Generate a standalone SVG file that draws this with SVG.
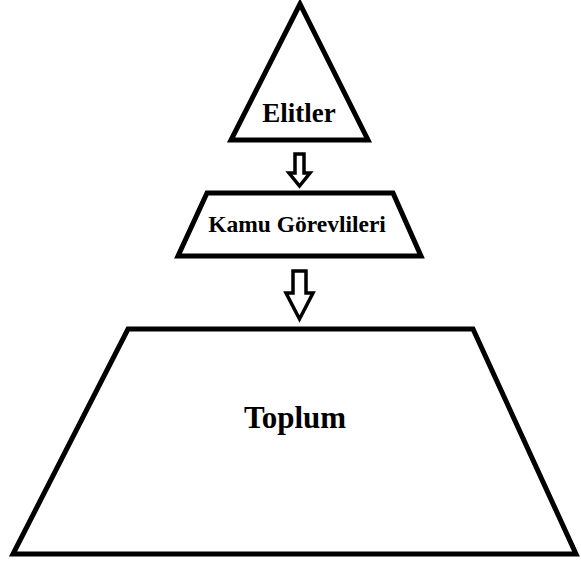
<svg xmlns="http://www.w3.org/2000/svg" width="581" height="565" viewBox="0 0 581 565">
<style>
.shape{fill:none;stroke:#000;stroke-width:5;stroke-linejoin:miter;stroke-linecap:round}
.arrow{fill:#fff;stroke:#000;stroke-width:3.5;stroke-linejoin:miter}
.lbl{font-family:"Liberation Serif","Times New Roman",serif;font-weight:bold;fill:#000;text-anchor:middle}
</style>
<rect width="581" height="565" fill="#fff"/>
<g id="elitler">
<path class="shape" d="M300,4 L231,140 L368,140 Z"/>
<text class="lbl" x="299" y="122" font-size="27">Elitler</text>
</g>
<g id="kamu">
<path class="shape" d="M207,193 L393,193 L421,256 L178,256 Z"/>
<text class="lbl" x="297" y="232" font-size="23.5">Kamu Görevlileri</text>
</g>
<g id="toplum">
<path class="shape" d="M128,329 L473,329 L576,554 L13,554 Z"/>
<text class="lbl" x="295" y="428" font-size="31">Toplum</text>
</g>
<g id="connectors">
<path class="arrow" d="M295,154 L304,154 L304,173 L310,173 L299.5,186 L289,173 L295,173 Z"/>
<path class="arrow" d="M293,271 L306,271 L306,293 L313,293 L299.5,319 L286,293 L293,293 Z"/>
</g>
</svg>
